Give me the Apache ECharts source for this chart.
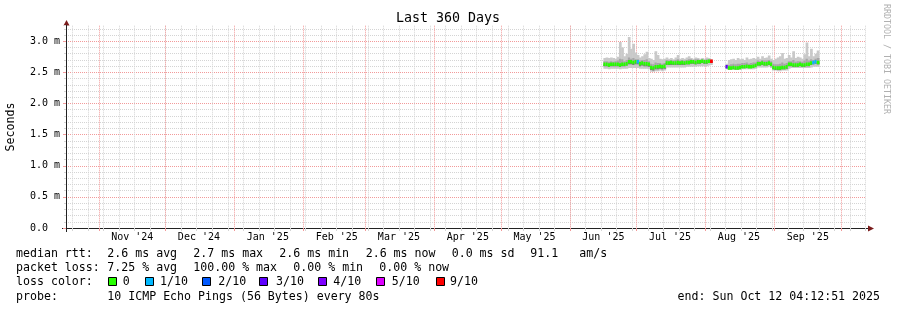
<!DOCTYPE html>
<html>
<head>
<meta charset="utf-8">
<script src="https://cdn.jsdelivr.net/npm/echarts@6/dist/echarts.min.js"></script>
<style>
html,body{margin:0;padding:0;background:#fff;}
#c{width:897px;height:310px;}
</style>
</head>
<body>
<div id="c"></div>
<script>
// ---------------- DATA ----------------
const title = 'Last 360 Days';
const yName = 'Seconds';
// graph window (UTC used as the local clock of the graph)
const graphEnd = [2025, 9, 12, 4, 12, 51];
const graphDays = 360;
// daily values starting at this day (ms); null = no data
const dataStartDay = [2025, 5, 16];
const medianMs = [
 2.63,2.63,2.62,2.63,2.63,2.63,2.63,2.62,2.63,2.63,2.64,2.67,2.67,2.66,2.67,2.67,2.64,2.65,2.64,2.64,
 2.63,2.58,2.57,2.59,2.59,2.60,2.59,2.60,2.65,2.65,2.66,2.65,2.65,2.66,2.65,2.66,2.65,2.66,2.66,2.67,
 2.67,2.66,2.67,2.67,2.68,2.67,2.67,2.68,2.68,null,null,null,null,null,null,2.59,2.57,2.57,2.58,2.57,
 2.57,2.58,2.59,2.59,2.60,2.59,2.59,2.60,2.61,2.64,2.64,2.65,2.64,2.64,2.65,2.63,2.58,2.57,2.57,2.57,
 2.58,2.58,2.59,2.63,2.63,2.62,2.62,2.62,2.63,2.62,2.62,2.63,2.63,2.65,2.66,2.67,2.66];
const minMs = [
 2.56,2.56,2.55,2.56,2.56,2.56,2.56,2.55,2.56,2.56,2.56,2.57,2.57,2.57,2.57,2.57,2.56,2.56,2.56,2.56,
 2.55,2.51,2.51,2.52,2.52,2.53,2.52,2.53,2.58,2.58,2.58,2.58,2.58,2.58,2.58,2.58,2.58,2.59,2.59,2.59,
 2.59,2.59,2.60,2.60,2.60,2.60,2.60,2.61,2.62,null,null,null,null,null,null,2.55,2.54,2.54,2.54,2.54,
 2.54,2.54,2.55,2.55,2.55,2.55,2.55,2.55,2.56,2.58,2.58,2.58,2.58,2.58,2.59,2.57,2.53,2.53,2.52,2.52,
 2.53,2.53,2.53,2.56,2.57,2.57,2.57,2.57,2.57,2.57,2.57,2.57,2.57,2.58,2.59,2.59,2.59];
const lowQMs = [
 2.60,2.60,2.59,2.60,2.60,2.60,2.60,2.59,2.60,2.60,2.61,2.63,2.63,2.62,2.63,2.63,2.60,2.61,2.60,2.60,
 2.59,2.54,2.53,2.55,2.55,2.56,2.55,2.56,2.62,2.62,2.62,2.62,2.62,2.62,2.62,2.62,2.62,2.63,2.63,2.64,
 2.64,2.63,2.64,2.64,2.65,2.64,2.64,2.65,2.66,null,null,null,null,null,null,2.57,2.55,2.55,2.56,2.55,
 2.55,2.56,2.57,2.57,2.58,2.57,2.57,2.58,2.59,2.61,2.61,2.62,2.61,2.61,2.62,2.60,2.55,2.54,2.54,2.54,
 2.55,2.55,2.56,2.60,2.60,2.59,2.59,2.59,2.60,2.59,2.59,2.60,2.60,2.62,2.63,2.64,2.63];
const highQMs = [
 2.68,2.68,2.67,2.68,2.67,2.68,2.69,2.72,2.71,2.68,2.70,2.74,2.72,2.73,2.71,2.71,2.69,2.70,2.70,2.71,
 2.68,2.64,2.63,2.66,2.65,2.65,2.64,2.65,2.70,2.69,2.70,2.69,2.70,2.71,2.69,2.70,2.69,2.70,2.71,2.71,
 2.70,2.71,2.71,2.70,2.71,2.70,2.71,2.71,2.70,null,null,null,null,null,null,2.62,2.62,2.63,2.64,2.63,
 2.64,2.64,2.65,2.65,2.66,2.64,2.65,2.66,2.66,2.69,2.68,2.70,2.69,2.69,2.70,2.68,2.64,2.63,2.63,2.64,
 2.66,2.64,2.65,2.68,2.68,2.70,2.67,2.68,2.68,2.67,2.69,2.72,2.69,2.71,2.70,2.72,2.73];
const maxMs = [
 2.73,2.74,2.73,2.74,2.73,2.72,2.75,2.99,2.90,2.76,2.80,3.07,2.88,2.96,2.82,2.78,2.74,2.76,2.79,2.83,
 2.73,2.72,2.70,2.84,2.78,2.72,2.71,2.72,2.74,2.72,2.73,2.71,2.74,2.78,2.72,2.73,2.72,2.74,2.76,2.73,
 2.72,2.74,2.73,2.72,2.73,2.72,2.74,2.73,2.71,null,null,null,null,null,null,2.64,2.70,2.71,2.72,2.70,
 2.73,2.71,2.72,2.70,2.74,2.71,2.72,2.73,2.72,2.75,2.72,2.76,2.73,2.74,2.77,2.72,2.70,2.72,2.74,2.76,
 2.81,2.72,2.73,2.78,2.74,2.84,2.73,2.75,2.74,2.72,2.79,2.98,2.76,2.88,2.76,2.80,2.85];
const lostPings = [
 0,0,0,0,0,0,0,0,0,0,0,0,0,0,0,1,0,0,0,0,
 0,0,0,0,0,0,0,0,0,0,0,0,0,0,0,0,0,0,0,0,
 0,0,0,0,0,0,0,0,10,null,null,null,null,null,null,3,0,0,0,0,
 0,0,0,0,0,0,0,0,0,0,0,0,0,0,0,0,0,0,0,0,
 0,0,0,0,0,0,0,0,0,0,0,0,0,0,1,1,0];
// tick labels
const yTicks = [0, 0.5, 1.0, 1.5, 2.0, 2.5, 3.0];
const monthLabels = ["Nov '24","Dec '24","Jan '25","Feb '25","Mar '25","Apr '25","May '25","Jun '25","Jul '25","Aug '25","Sep '25"];
const monthStarts = [[2024,10],[2024,11],[2025,0],[2025,1],[2025,2],[2025,3],[2025,4],[2025,5],[2025,6],[2025,7],[2025,8],[2025,9]];
const firstWeekLine = [2024, 9, 20];
// legend
const lossLegend = ['0','1/10','2/10','3/10','4/10','5/10','9/10'];
const lossColors = ['#26ff00','#00b8ff','#0059ff','#5e00ff','#7e00ff','#dd00ff','#ff0000'];
const rttLine = ['median rtt:','2.6 ms avg','2.7 ms max','2.6 ms min','2.6 ms now','0.0 ms sd','91.1','am/s'];
const lossLine = ['packet loss:','7.25 % avg','100.00 % max','0.00 % min','0.00 % now'];
const probeLine = ['probe:','10 ICMP Echo Pings (56 Bytes) every 80s'];
const endText = 'end: Sun Oct 12 04:12:51 2025';
const watermark = 'RRDTOOL / TOBI OETIKER';

// ---------------- BUILD ----------------
const DAY = 86400000;
const END = Date.UTC.apply(null, graphEnd);
const START = END - graphDays * DAY;
const off = t => (t - START) / DAY;

const weekVals = [];
for (let t = Date.UTC.apply(null, firstWeekLine); off(t) < graphDays; t += 7 * DAY) weekVals.push(off(t));
const monthVals = monthStarts.map(m => off(Date.UTC(m[0], m[1], 1))).filter(v => v > 0 && v < graphDays);
const monthMid = monthStarts.slice(0, monthLabels.length).map(m => off(Date.UTC(m[0], m[1], 1)) + 15);

const d0 = off(Date.UTC.apply(null, dataStartDay));
const rows = [];
medianMs.forEach((m, i) => {
  if (m == null) return;
  rows.push([d0 + i, minMs[i], lowQMs[i], highQMs[i], maxMs[i], m, lostPings[i]]);
});
function lossColor(n) { return n <= 5 ? lossColors[n] : lossColors[6]; }

const FONT = '"DejaVu Sans Mono", "Liberation Mono", monospace';
const GRID_MINOR = '#d4d4d4';
const GRID_MAJOR = '#f29a9a';

const chart = echarts.init(document.getElementById('c'), null, {renderer: 'canvas'});

const graphic = [];
function txt(x, y, s, opts) {
  graphic.push(Object.assign({type: 'text', x: x, y: y, silent: true,
    style: Object.assign({text: s, fill: '#000', font: '11.6px ' + FONT, align: 'left', verticalAlign: 'middle'}, (opts || {}).style || {})},
    (opts || {}).el || {}));
}
txt(448, 19, title, {style: {font: '13.3px ' + FONT, align: 'center'}});
txt(11, 127, yName, {el: {rotation: Math.PI / 2}, style: {align: 'center'}});
txt(886, 59, watermark, {el: {rotation: -Math.PI / 2}, style: {align: 'center', fill: '#b0b0b0', font: '8.3px ' + FONT}});
const rttX = [16, 107.3, 193.3, 279.3, 365.7, 451.7, 530.3, 579.3];
rttLine.forEach((s, i) => txt(rttX[i], 254, s));
const lossX = [16, 107.3, 193.3, 293.3, 379.3];
lossLine.forEach((s, i) => txt(lossX[i], 268.3, s));
txt(16, 282.3, 'loss color:');
const boxX = [108.5, 145.5, 202.5, 259.5, 318.5, 376.5, 436.5];
const boxTxtX = [122.7, 160, 218.3, 276, 333.3, 391.7, 450];
lossLegend.forEach((s, i) => {
  graphic.push({type: 'rect', silent: true, shape: {x: boxX[i], y: 277.5, width: 8, height: 8},
    style: {fill: lossColors[i], stroke: '#000', lineWidth: 1}});
  txt(boxTxtX[i], 282.3, s);
});
txt(16, 296.7, probeLine[0]);
txt(107.3, 296.7, probeLine[1]);
txt(880, 296.7, endText, {style: {align: 'right'}});
// axis extensions and arrows
graphic.push({type: 'line', silent: true, shape: {x1: 62, y1: 228.5, x2: 869, y2: 228.5}, style: {stroke: '#222', lineWidth: 1}});
graphic.push({type: 'line', silent: true, shape: {x1: 66.5, y1: 24, x2: 66.5, y2: 232}, style: {stroke: '#222', lineWidth: 1}});
graphic.push({type: 'polygon', silent: true, shape: {points: [[63.5, 25.5], [69.5, 25.5], [66.5, 20]]}, style: {fill: '#7a1c1c'}});
graphic.push({type: 'polygon', silent: true, shape: {points: [[868, 225.5], [868, 231.5], [874, 228.5]]}, style: {fill: '#7a1c1c'}});

const option = {
  animation: false,
  backgroundColor: '#fff',
  grid: {left: 66, right: 31, top: 25.7, bottom: 82, containLabel: false},
  xAxis: [
    {type: 'value', min: 0, max: graphDays, position: 'bottom',
      axisLine: {show: false},
      axisTick: {show: true, length: 3, customValues: weekVals, lineStyle: {color: GRID_MINOR}},
      axisLabel: {show: false},
      splitLine: {show: true, lineStyle: {color: GRID_MINOR, type: [1, 1], width: 1}}},
    {type: 'value', min: 0, max: graphDays, position: 'bottom',
      axisLine: {show: true, lineStyle: {color: '#222', width: 1}},
      axisTick: {show: true, length: 3, customValues: monthVals, lineStyle: {color: GRID_MAJOR}},
      axisLabel: {show: true, customValues: monthMid, margin: 4.5, color: '#000', fontFamily: FONT, fontSize: 10,
        formatter: v => { let b = 0, bd = 1e9; monthMid.forEach((m, i) => { const d = Math.abs(m - v); if (d < bd) { bd = d; b = i; } }); return monthLabels[b]; }},
      splitLine: {show: true, lineStyle: {color: GRID_MAJOR, type: [1, 1], width: 1}}}
  ],
  yAxis: [
    {type: 'value', min: 0, max: 3.25, interval: 0.1, position: 'left',
      axisLine: {show: false},
      axisTick: {show: true, length: 2, lineStyle: {color: GRID_MINOR}},
      axisLabel: {show: false},
      splitLine: {show: true, showMaxLine: false, lineStyle: {color: GRID_MINOR, type: [1, 1], width: 1}}},
    {type: 'value', min: 0, max: 3.25, interval: 0.5, position: 'left',
      axisLine: {show: true, lineStyle: {color: '#222', width: 1}},
      axisTick: {show: true, length: 3, lineStyle: {color: GRID_MAJOR}},
      axisLabel: {show: true, showMaxLabel: false, margin: 6, color: '#000', fontFamily: FONT, fontSize: 10,
        formatter: v => (yTicks.some(t => Math.abs(t - v) < 1e-6) ? (Math.abs(v) < 1e-9 ? '0.0  ' : v.toFixed(1) + ' m') : '')},
      splitLine: {show: true, showMaxLine: false, showMinLine: false, lineStyle: {color: GRID_MAJOR, type: [1, 1], width: 1}}}
  ],
  series: [{
    type: 'custom', xAxisIndex: 1, yAxisIndex: 1, silent: true, clip: true,
    encode: {x: 0, y: [1, 4]},
    data: rows,
    renderItem: function (params, api) {
      const t = api.value(0);
      const w = api.size([1, 0])[0];
      const x = api.coord([t, 0])[0];
      const yLo = api.coord([t, api.value(1)])[1];
      const yQ1 = api.coord([t, api.value(2)])[1];
      const yQ3 = api.coord([t, api.value(3)])[1];
      const yHi = api.coord([t, api.value(4)])[1];
      const yMed = api.coord([t, api.value(5)])[1];
      const loss = api.value(6);
      return {type: 'group', children: [
        {type: 'rect', shape: {x: x, y: yHi, width: w + 0.5, height: yLo - yHi}, style: {fill: '#c9c9c9'}},
        {type: 'rect', shape: {x: x, y: yQ3, width: w + 0.5, height: yQ1 - yQ3}, style: {fill: '#a6a6a6'}},
        {type: 'rect', shape: {x: x, y: yMed, width: w + 0.5, height: Math.max(0, yQ1 - yMed)}, style: {fill: '#7a7a7a'}},
        {type: 'rect', shape: {x: x, y: yMed - 1.75, width: w + 0.5, height: 3.5}, style: {fill: lossColor(loss)}}
      ]};
    }
  }],
  graphic: graphic
};
chart.setOption(option);
</script>
</body>
</html>
